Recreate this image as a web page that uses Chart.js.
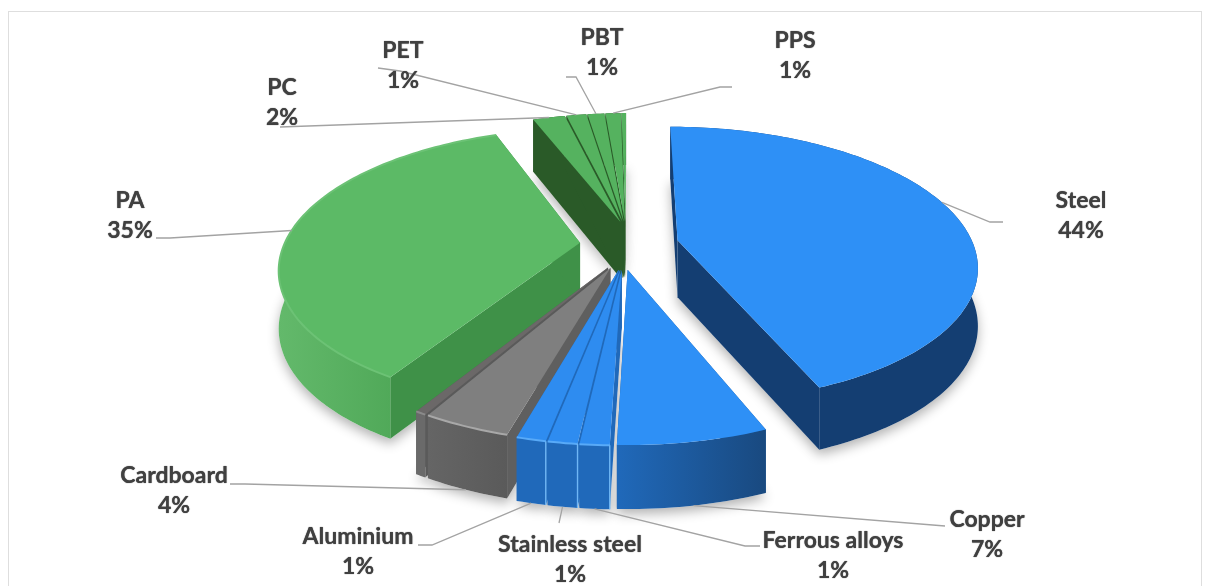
<!DOCTYPE html>
<html>
<head>
<meta charset="utf-8">
<title>Material shares</title>
<script src="https://cdn.jsdelivr.net/npm/chart.js@4"></script>
<style>
    html, body { margin: 0; padding: 0; background: #fff; overflow: hidden; }
    #frame { position: absolute; left: 8px; top: 11px; width: 1192px; height: 600px; border: 1px solid #dedede; }
    #chart { position: absolute; left: 0; top: 0; }
</style>
</head>
<body>
<div id="frame"></div>
<canvas id="chart" width="1211" height="586"></canvas>
<script>
// ----------------------------- Data ------------------------------------------
const categories = ["Steel", "Copper", "Ferrous alloys", "Stainless steel", "Aluminium", "Cardboard", "",
    "PA", "PC", "PET", "PBT", "PPS", ""];
const shares = [43.8, 6.6, 1.3, 1.3, 1.3, 3.9, 0.5, 35.4, 2.1, 1.3, 1.1, 1, 0.3];

// ----------------------------- Styling ---------------------------------------
const pullGroups = [0, 1, 2, 2, 2, 3, 3, 4, 5, 5, 5, 5, 5];
const groupNudge = [-0.01, -0.035, 0, 0.012, 0.015, 0.012];
const topColors = ["#2e90f6", "#2e90f6", "#2e8cf0", "#2e8cf0", "#2e8cf0", "#7f7f7f", "#6b6868",
    "#5cba66", "#55b25f", "#55b25f", "#55b25f", "#55b25f", "#55b25f"];
const sideColors = ["#143e72", "#1b5596", "#2069ba", "#2069ba", "#2069ba", "#5f5f5f", "#5a5a5a",
    "#3f9148", "#2a5a28", "#2a5a28", "#2a5a28", "#2a5a28", "#2a5a28"];
const outerColors = [["#143e72", "#143e72"], ["#2069ba", "#19497f"], ["#2069ba", "#2069ba"], ["#2069ba", "#2069ba"],
    ["#2069ba", "#2069ba"], ["#656565", "#5a5a5a"], ["#6a6a6a", "#6a6a6a"], ["#63b96b", "#3f9a48"], ["#2a5a28", "#2a5a28"],
    ["#2a5a28", "#2a5a28"], ["#2a5a28", "#2a5a28"], ["#2a5a28", "#2a5a28"], ["#2a5a28", "#2a5a28"]];
const rimColors = [null, null, "#58aaf8", "#58aaf8", "#58aaf8", "#a8a8a8", "#8a8a8a", "#6cc275",
    null, null, null, null, null];
const seamColors = [null, null, "#6fb6f5", "#6fb6f5", "#6fb6f5", null, null, null, null, null, null, null, null];

// Label centres and the elbows of their leader lines, outermost point last
const labelLayout = {
    "Steel": { x: 1081, y: 201, leader: [[990, 222], [1003, 222]], at: 0.46 },
    "Copper": { x: 987, y: 520, leader: [[945, 526]], at: 0.5, low: true },
    "Ferrous alloys": { x: 833, y: 541, leader: [[745, 546], [760, 546]], at: 0.5, low: true },
    "Stainless steel": { x: 570, y: 545, leader: [[559, 523]], at: 0.5, low: true },
    "Aluminium": { x: 358, y: 537, leader: [[432, 545], [418, 545]], at: 0.5, low: true },
    "Cardboard": { x: 174, y: 476, leader: [[245, 484], [230, 484]], at: 0.5, low: true },
    "PA": { x: 130, y: 201, leader: [[170, 238], [156, 238]], at: 0.5 },
    "PC": { x: 282, y: 88, leader: [[280, 127]], at: 0.5 },
    "PET": { x: 403, y: 51, leader: [[400, 71], [378, 68]], at: 0.5 },
    "PBT": { x: 602, y: 38, leader: [[576, 77], [566, 77]], at: 0.5 },
    "PPS": { x: 795, y: 41, leader: [[720, 87], [732, 87]], at: 0.5 },
};

// ----------------------------- 3D projection ---------------------------------
const View = { stretchX: 1.208, stretchY: 0.551, perspective: 0.175, depth: 57, pull: 0.18, fan: 0.35 };

function project(el, u, v) {
    const w = 1 - View.perspective * v;
    const r = el.outerRadius;
    return {
        x: el.x + r * View.stretchX * u / w,
        y: el.y + r * View.stretchY * v / w,
        drop: View.depth / Math.sqrt(w),
    };
}

function midAngle(arcs, idx) {
    const g = pullGroups[idx];
    const members = arcs.filter((a, i) => pullGroups[i] === g);
    const groupMid = (members[0].startAngle + members[members.length - 1].endAngle) / 2;
    const own = (arcs[idx].startAngle + arcs[idx].endAngle) / 2;
    return groupMid + (own - groupMid) * View.fan;
}

function sliceGeometry(arcs, idx) {
    const el = arcs[idx];
    const pa = midAngle(arcs, idx);
    const ou = View.pull * Math.cos(pa) + groupNudge[pullGroups[idx]];
    const ov = View.pull * Math.sin(pa);
    const span = el.endAngle - el.startAngle;
    const steps = Math.max(4, Math.ceil(span / 0.02));
    const rim = [];
    for (let i = 0; i <= steps; i++) {
        const a = el.startAngle + span * i / steps;
        rim.push(project(el, ou + Math.cos(a), ov + Math.sin(a)));
    }
    return { tip: project(el, ou, ov), rim, ou, ov, el, span };
}

function tracePoints(ctx, pts, down, joined) {
    pts.forEach((p, i) => {
        const y = p.y + (down ? p.drop : 0);
        if (i === 0 && !joined) ctx.moveTo(p.x, y); else ctx.lineTo(p.x, y);
    });
}

function fillWall(ctx, upper, fill) {
    ctx.beginPath();
    tracePoints(ctx, upper, false, false);
    tracePoints(ctx, upper.slice().reverse(), true, true);
    ctx.closePath();
    ctx.fillStyle = fill;
    ctx.fill();
}

function drawSlice(ctx, s, idx) {
    fillWall(ctx, [s.tip, s.rim[0]], sideColors[idx]);
    fillWall(ctx, [s.tip, s.rim[s.rim.length - 1]], sideColors[idx]);

    const xs = s.rim.map((p) => p.x);
    const grad = ctx.createLinearGradient(Math.min(...xs), 0, Math.max(...xs) + 1, 0);
    grad.addColorStop(0, outerColors[idx][0]);
    grad.addColorStop(1, outerColors[idx][1]);
    fillWall(ctx, s.rim, grad);

    ctx.beginPath();
    ctx.moveTo(s.tip.x, s.tip.y);
    tracePoints(ctx, s.rim, false, true);
    ctx.closePath();
    ctx.fillStyle = topColors[idx];
    ctx.fill();

    if (rimColors[idx]) {
        ctx.beginPath();
        tracePoints(ctx, s.rim, false, false);
        ctx.strokeStyle = rimColors[idx];
        ctx.lineWidth = 2;
        ctx.stroke();
    }
    // light joint running down the wall between touching slices
    if (seamColors[idx]) {
        const end = s.rim[0];
        ctx.beginPath();
        ctx.moveTo(end.x, end.y);
        ctx.lineTo(end.x, end.y + end.drop);
        ctx.strokeStyle = seamColors[idx];
        ctx.lineWidth = 1.4;
        ctx.stroke();
    }
}

// ----------------------------- Chart plugin ----------------------------------
const extrudedPie = {
    id: "extrudedPie",
    beforeDatasetDraw(chart) {
        const ctx = chart.ctx;
        const arcs = chart.getDatasetMeta(0).data;
        const slices = arcs.map((a, i) => ({ i, s: sliceGeometry(arcs, i) }));

        // soft shadow on the paper below the pie
        ctx.save();
        ctx.shadowColor = "rgba(0,0,0,0.30)";
        ctx.shadowBlur = 12;
        ctx.shadowOffsetY = 5;
        ctx.fillStyle = "#fff";
        slices.forEach(({ s }) => {
            ctx.beginPath();
            ctx.moveTo(s.tip.x, s.tip.y + s.tip.drop);
            tracePoints(ctx, s.rim, true, true);
            ctx.closePath();
            ctx.fill();
        });
        ctx.restore();

        // far slices first so the near ones paint over them
        slices.sort((a, b) => Math.sin((arcs[a.i].startAngle + arcs[a.i].endAngle) / 2)
            - Math.sin((arcs[b.i].startAngle + arcs[b.i].endAngle) / 2));
        slices.forEach(({ i, s }) => drawSlice(ctx, s, i));

        drawLabels(ctx, arcs);
        return false;
    },
};

function drawLabels(ctx, arcs) {
    ctx.save();
    ctx.textAlign = "center";
    ctx.textBaseline = "middle";
    ctx.font = "bold 23px Lato";
    categories.forEach((name, i) => {
        const box = labelLayout[name];
        if (!box) return;
        const s = sliceGeometry(arcs, i);
        const a = s.el.startAngle + s.span * box.at;
        const p = project(s.el, s.ou + Math.cos(a), s.ov + Math.sin(a));
        ctx.beginPath();
        ctx.moveTo(p.x, p.y + (box.low ? p.drop : 0));
        box.leader.forEach(([x, y]) => ctx.lineTo(x, y));
        ctx.strokeStyle = "#a3a3a3";
        ctx.lineWidth = 1.3;
        ctx.stroke();
        ctx.fillStyle = "#404040";
        ctx.shadowColor = "#404040";
        ctx.shadowBlur = 1;
        ctx.fillText(name, box.x, box.y);
        ctx.fillText(Math.round(shares[i]) + "%", box.x, box.y + 30);
        ctx.shadowBlur = 0;
    });
    ctx.restore();
}

// ----------------------------- App Bootstrap ---------------------------------
document.addEventListener("DOMContentLoaded", function () {
    new Chart(document.getElementById("chart"), {
        type: "pie",
        data: {
            labels: categories,
            datasets: [{ data: shares, backgroundColor: topColors, borderWidth: 0 }],
        },
        options: {
            responsive: false,
            animation: false,
            layout: { padding: { left: 46, bottom: 96 } },
            plugins: { legend: { display: false }, tooltip: { enabled: false } },
        },
        plugins: [extrudedPie],
    });
});
</script>
</body>
</html>
